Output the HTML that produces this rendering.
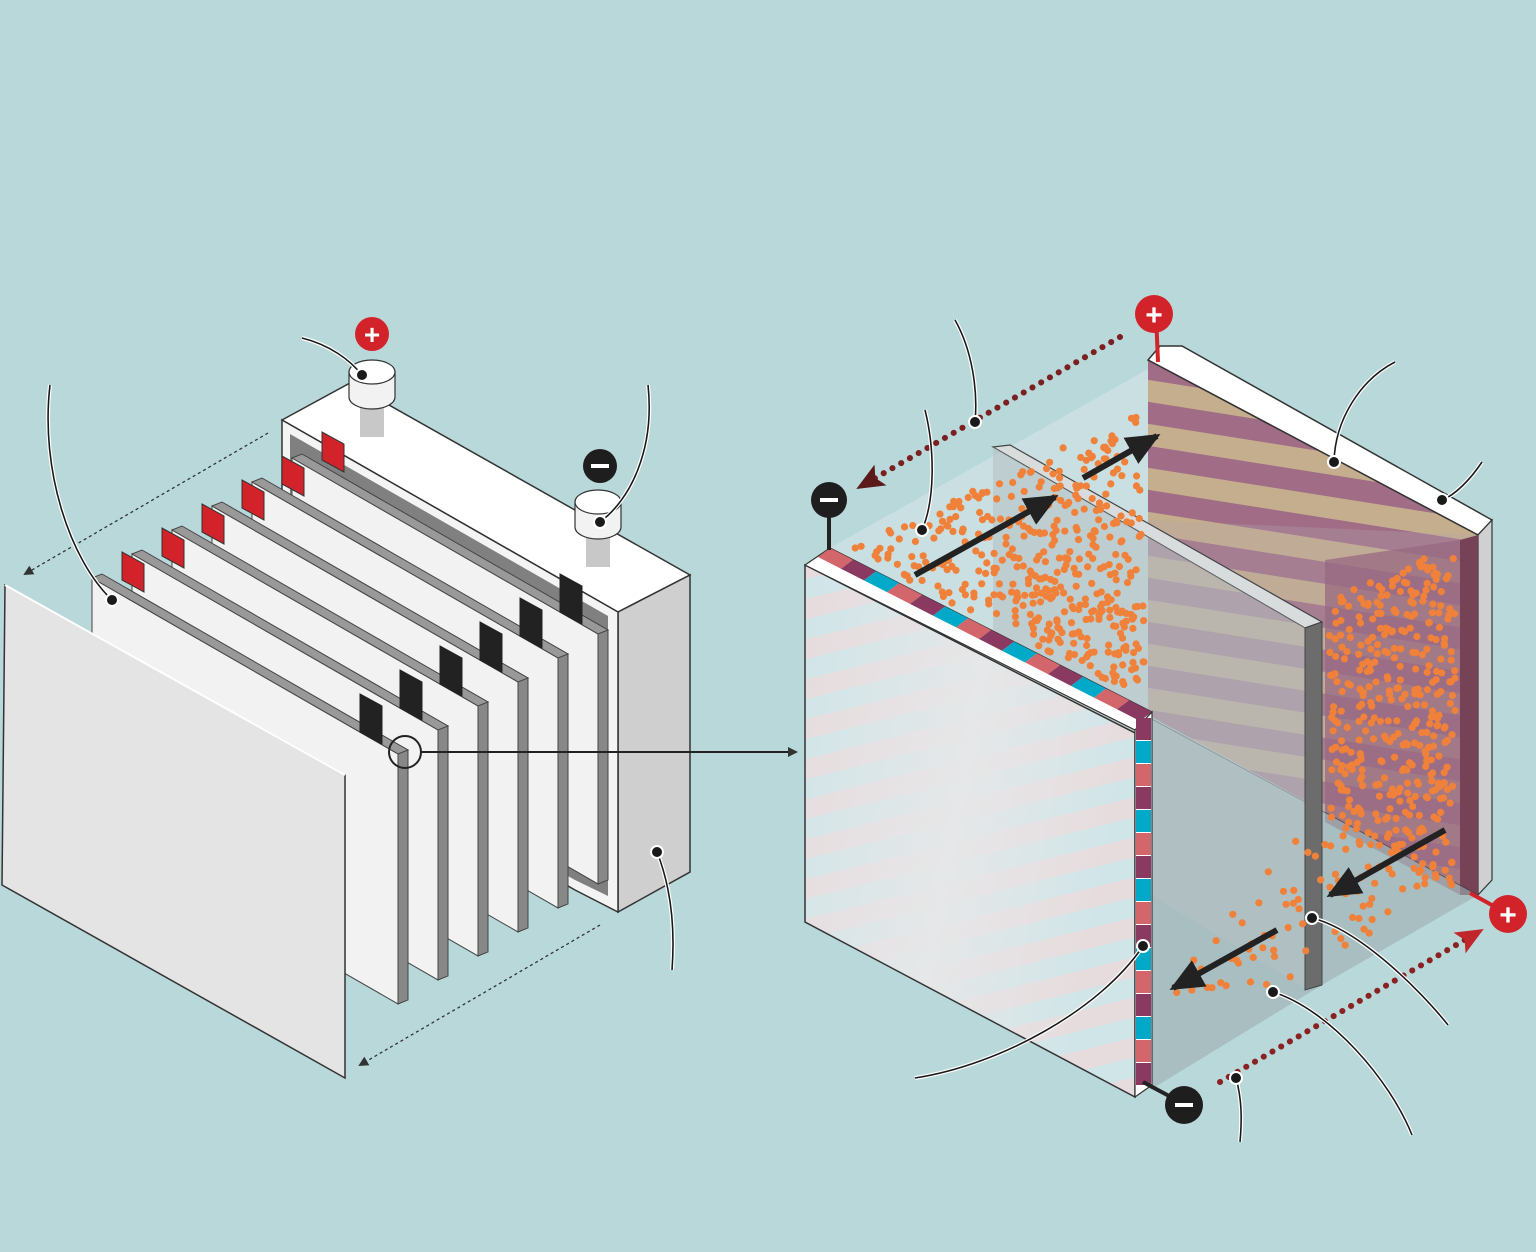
<!DOCTYPE html>
<html><head><meta charset="utf-8"><style>
html,body{margin:0;padding:0;background:#b9d8da;}
svg{display:block;}
text{font-family:"Liberation Sans",sans-serif;font-weight:bold;}
</style></head><body>
<svg id="s" width="1536" height="1252" viewBox="0 0 1536 1252" xmlns="http://www.w3.org/2000/svg">
<defs>
<marker id="ak" markerWidth="10" markerHeight="10" refX="8" refY="5" orient="auto" markerUnits="userSpaceOnUse"><path d="M0,0 L10,5 L0,10 z" fill="#333"/></marker>
<marker id="ar" markerWidth="30" markerHeight="24" refX="26" refY="12" orient="auto" markerUnits="userSpaceOnUse"><path d="M0,0 L28,12 L0,24 L6,12 z" fill="#5a1a1a"/></marker>
<marker id="ar2" markerWidth="30" markerHeight="24" refX="26" refY="12" orient="auto" markerUnits="userSpaceOnUse"><path d="M0,0 L28,12 L0,24 L6,12 z" fill="#c0272d"/></marker>
<marker id="ab" markerWidth="34" markerHeight="30" refX="30" refY="15" orient="auto" markerUnits="userSpaceOnUse"><path d="M0,0 L34,15 L0,30 z" fill="#222"/></marker>
<pattern id="cat" patternUnits="userSpaceOnUse" width="60" height="44" patternTransform="skewY(9)">
<rect width="60" height="44" fill="#a06c86"/><rect y="22" width="60" height="22" fill="#c4ae8d"/></pattern>
<pattern id="ano" patternUnits="userSpaceOnUse" width="60" height="40" patternTransform="skewY(-14)">
<rect width="60" height="40" fill="#e6d8da"/><rect y="20" width="60" height="20" fill="#c9e4e8"/></pattern>
<linearGradient id="fade" x1="0" y1="0" x2="1" y2="0.3"><stop offset="0" stop-color="#e6e7e8" stop-opacity="0.2"/><stop offset="0.55" stop-color="#e6e7e8" stop-opacity="1"/><stop offset="1" stop-color="#e6e7e8" stop-opacity="0.25"/></linearGradient>
</defs>

<!-- LEFT BATTERY -->
<polygon points="282,420 350,383 690,575 618,612" fill="#fff" stroke="#333" stroke-width="1.5"/>
<polygon points="618,612 690,575 690,872 618,912" fill="#cfcfcf" stroke="#333" stroke-width="1.5"/>
<polygon points="282,420 618,612 618,912 575,890 282,720" fill="#f4f4f4" stroke="#333" stroke-width="1.5"/>
<polygon points="290,434 608,616 608,896 575,880 290,720" fill="#808080"/>
<!-- terminals -->
<rect x="360" y="395" width="24" height="42" fill="#c8c8c8"/>
<path d="M349,372 v25 a23,12 0 0 0 46,0 v-25z" fill="#f2f2f2" stroke="#333" stroke-width="1.2"/>
<ellipse cx="372" cy="372" rx="23" ry="12" fill="#fff" stroke="#333" stroke-width="1.2"/>
<rect x="586" y="525" width="24" height="42" fill="#c8c8c8"/>
<path d="M575,502 v25 a23,12 0 0 0 46,0 v-25z" fill="#f2f2f2" stroke="#333" stroke-width="1.2"/>
<ellipse cx="598" cy="502" rx="23" ry="12" fill="#fff" stroke="#333" stroke-width="1.2"/>
<circle cx="372" cy="334" r="17" fill="#d2232a"/><text x="372" y="344" font-size="28" fill="#fff" text-anchor="middle">+</text>
<circle cx="600" cy="466" r="17" fill="#1e1e1e"/><rect x="591" y="464" width="18" height="4" fill="#fff"/>
<!-- plates -->
<g id="plates" stroke="#444" stroke-width="1"></g>
<!-- front plate -->
<polygon points="5,585 345,775 345,1078 2,885" fill="#e4e4e4" stroke="#333" stroke-width="1.5"/>
<line x1="5" y1="585" x2="345" y2="775" stroke="#fff" stroke-width="2"/>
<line x1="268" y1="433" x2="25" y2="574" stroke="#333" stroke-dasharray="3,3" stroke-width="1.3" marker-end="url(#ak)"/>
<line x1="600" y1="925" x2="360" y2="1065" stroke="#333" stroke-dasharray="3,3" stroke-width="1.3" marker-end="url(#ak)"/>
<circle cx="405" cy="752" r="16" fill="none" stroke="#222" stroke-width="2"/>
<line x1="421" y1="752" x2="796" y2="752" stroke="#222" stroke-width="2" marker-end="url(#ak)"/>

<!-- RIGHT CELL -->
<polygon points="830,548 1150,368 1150,720 1000,800" fill="#d8e6e8" opacity="0.55"/>
<polygon points="1160,346 1182,346 1492,520 1478,535 1148,360" fill="#fff" stroke="#333" stroke-width="1.5"/>
<polygon points="1478,535 1492,520 1492,880 1478,895" fill="#d0d0d0" stroke="#333" stroke-width="1.2"/>
<polygon points="1148,360 1478,535 1478,895 1148,715" fill="url(#cat)"/>
<polygon points="1325,560 1460,540 1460,895 1325,822" fill="#8c4d70" opacity="0.75"/>
<polygon points="1460,540 1478,535 1478,895 1460,895" fill="#5a1830"/>
<polygon points="1148,520 1478,535 1478,895 1148,715" fill="#b7a9ad" opacity="0.3"/>
<line x1="1148" y1="360" x2="1478" y2="535" stroke="#333" stroke-width="1.5"/>
<!-- bottom translucent -->
<polygon points="1150,718 1478,895 1322,985 1150,1090" fill="#a3b3b5" opacity="0.7"/>
<line x1="1150" y1="718" x2="1478" y2="895" stroke="#333" stroke-width="1" opacity="0.6"/>
<!-- separator -->
<polygon points="993,447 1010,445 1322,622 1305,628" fill="#d8dcdd" stroke="#444" stroke-width="1.2"/>
<polygon points="993,447 1305,628 1305,988 993,800" fill="#b4c0c2" opacity="0.55"/>
<polygon points="1305,628 1322,622 1322,985 1305,990" fill="#6c6c6c" stroke="#444" stroke-width="1"/>
<g id="dots" fill="#f0813a"></g>
<!-- front anode panel -->
<polygon points="805,565 1135,733 1135,1097 805,922" fill="url(#ano)"/>
<polygon points="805,565 1135,733 1135,1097 805,922" fill="url(#fade)" stroke="#333" stroke-width="1.5"/>
<polygon points="805,565 830,548 1152,712 1135,730" fill="#fff" stroke="#333" stroke-width="1.2"/>
<g id="topstr"></g>
<polygon points="1135,730 1152,712 1152,1085 1135,1097" fill="#fff" stroke="#333" stroke-width="1.2"/>
<g id="sidestr"></g>
<!-- terminals right -->
<line x1="829" y1="500" x2="829" y2="550" stroke="#222" stroke-width="4"/>
<circle cx="829" cy="500" r="18" fill="#1e1e1e"/><rect x="820" y="498" width="18" height="4" fill="#fff"/>
<line x1="1156" y1="314" x2="1158" y2="362" stroke="#d2232a" stroke-width="4"/>
<circle cx="1154" cy="314" r="19" fill="#d2232a"/><text x="1154" y="325" font-size="30" fill="#fff" text-anchor="middle">+</text>
<line x1="1470" y1="893" x2="1508" y2="914" stroke="#d2232a" stroke-width="4"/>
<circle cx="1508" cy="914" r="19" fill="#d2232a"/><text x="1508" y="925" font-size="30" fill="#fff" text-anchor="middle">+</text>
<line x1="1143" y1="1082" x2="1184" y2="1104" stroke="#222" stroke-width="4"/>
<circle cx="1184" cy="1105" r="19" fill="#1e1e1e"/><rect x="1175" y="1103" width="18" height="4" fill="#fff"/>
<!-- dotted current lines -->
<line x1="1120" y1="337" x2="858" y2="488" stroke="#7a2020" stroke-width="6" stroke-linecap="round" stroke-dasharray="0.1,10" marker-end="url(#ar)"/>
<line x1="1220" y1="1082" x2="1482" y2="930" stroke="#8a2222" stroke-width="6" stroke-linecap="round" stroke-dasharray="0.1,10" marker-end="url(#ar2)"/>
<!-- black arrows -->
<g stroke="#222" stroke-width="6" marker-end="url(#ab)">
<line x1="915" y1="575" x2="1055" y2="497"/>
<line x1="1083" y1="478" x2="1157" y2="436"/>
<line x1="1445" y1="830" x2="1330" y2="895"/>
<line x1="1277" y1="930" x2="1173" y2="988"/>
</g>
<!-- leaders -->
<g fill="none" stroke="#fff" stroke-width="4">
<path d="M50,385 C40,470 70,560 112,600"/><path d="M302,338 C330,345 350,360 362,375"/>
<path d="M648,385 C655,450 630,500 600,522"/><path d="M657,852 C672,890 675,930 672,970"/>
<path d="M955,320 C972,350 978,390 975,422"/><path d="M925,410 C935,450 935,500 922,530"/>
<path d="M1395,362 C1360,380 1335,420 1334,462"/><path d="M1482,462 C1470,480 1455,495 1442,500"/>
<path d="M1312,918 C1360,930 1420,990 1448,1025"/><path d="M1273,992 C1330,1010 1390,1080 1412,1135"/>
<path d="M1143,946 C1100,1010 1000,1065 915,1078"/><path d="M1236,1078 C1242,1100 1242,1120 1240,1142"/>
</g>
<g fill="none" stroke="#1a1a1a" stroke-width="1.6">
<path d="M50,385 C40,470 70,560 112,600"/><path d="M302,338 C330,345 350,360 362,375"/>
<path d="M648,385 C655,450 630,500 600,522"/><path d="M657,852 C672,890 675,930 672,970"/>
<path d="M955,320 C972,350 978,390 975,422"/><path d="M925,410 C935,450 935,500 922,530"/>
<path d="M1395,362 C1360,380 1335,420 1334,462"/><path d="M1482,462 C1470,480 1455,495 1442,500"/>
<path d="M1312,918 C1360,930 1420,990 1448,1025"/><path d="M1273,992 C1330,1010 1390,1080 1412,1135"/>
<path d="M1143,946 C1100,1010 1000,1065 915,1078"/><path d="M1236,1078 C1242,1100 1242,1120 1240,1142"/>
</g>
<g fill="#1a1a1a" stroke="#fff" stroke-width="2">
<circle cx="112" cy="600" r="6"/><circle cx="362" cy="375" r="6"/><circle cx="600" cy="522" r="6"/><circle cx="657" cy="852" r="6"/>
<circle cx="975" cy="422" r="6"/><circle cx="922" cy="530" r="6"/><circle cx="1334" cy="462" r="6"/><circle cx="1442" cy="500" r="6"/>
<circle cx="1312" cy="918" r="6"/><circle cx="1273" cy="992" r="6"/><circle cx="1143" cy="946" r="6"/><circle cx="1236" cy="1078" r="6"/>
</g>
</svg>
<script>
var NS="http://www.w3.org/2000/svg";
function el(p,t,a){var e=document.createElementNS(NS,t);for(var k in a)e.setAttribute(k,a[k]);p.appendChild(e);return e;}
// plates
var pg=document.getElementById('plates');
var starts=[[292,458],[252,482],[212,506],[172,530],[132,554],[92,578]];
for(var i=0;i<starts.length;i++){
 var x=starts[i][0],y=starts[i][1],w=306,h=250,sl=0.575;
 var x2=x+w,y2=y+w*sl;
 el(pg,'polygon',{points:x+","+y+" "+(x2)+","+y2+" "+(x2)+","+(y2+h)+" "+x+","+(y+h)+"",fill:"#f2f2f2"});
 el(pg,'polygon',{points:x2+","+y2+" "+(x2+10)+","+(y2-4)+" "+(x2+10)+","+(y2+h-4)+" "+x2+","+(y2+h),fill:"#888"});
 el(pg,'polygon',{points:x+","+y+" "+(x+10)+","+(y-4)+" "+(x2+10)+","+(y2-4)+" "+x2+","+y2,fill:"#999"});
 // red tab
 el(pg,'polygon',{points:(x+30)+","+(y+2)+" "+(x+52)+","+(y+14)+" "+(x+52)+","+(y-14)+" "+(x+30)+","+(y-26),fill:"#d2232a",stroke:"#333"});
 // black tab
 el(pg,'polygon',{points:(x+268)+","+(y+154)+" "+(x+290)+","+(y+166)+" "+(x+290)+","+(y+128)+" "+(x+268)+","+(y+116),fill:"#222",stroke:"#222"});
}
// anode top stripes
var ts=document.getElementById('topstr');
var cols=["#d2666a","#8a3a60","#00a9c8"];
for(var j=0;j<14;j++){
 var t0=j/14,t1=(j+1)/14;
 var ax=830+322*t0,ay=548+164*t0,bx=830+322*t1,by=548+164*t1;
 el(ts,'polygon',{points:ax+","+ay+" "+bx+","+by+" "+(bx-12)+","+(by+9)+" "+(ax-12)+","+(ay+9),fill:cols[j%3]});
}
var ss=document.getElementById('sidestr');
for(var j=0;j<16;j++){
 var y0=718+j*23;
 el(ss,'rect',{x:1136,y:y0,width:15,height:22,fill:cols[(j+1)%3]});
}
// dots
var dg=document.getElementById('dots');
var seed=7;function r(){seed=(seed*16807)%2147483647;return seed/2147483647;}
function inTri(x,y,P){function s(a,b,c){return (a[0]-c[0])*(b[1]-c[1])-(b[0]-c[0])*(a[1]-c[1]);}
 var d1=s([x,y],P[0],P[1]),d2=s([x,y],P[1],P[2]),d3=s([x,y],P[2],P[0]);
 return !((d1<0||d2<0||d3<0)&&(d1>0||d2>0||d3>0));}
function scatter(n,P,bb){var c=0,g=0;while(c<n&&g<20000){g++;var x=bb[0]+r()*(bb[2]-bb[0]),y=bb[1]+r()*(bb[3]-bb[1]);
 var ok=inTri(x,y,[P[0],P[1],P[2]])||(P[3]&&inTri(x,y,[P[0],P[2],P[3]]));if(ok){el(dg,'circle',{cx:x.toFixed(1),cy:y.toFixed(1),r:3.6});c++;}}}
scatter(420,[[850,548],[1140,410],[1145,700],[860,560]],[840,400,1150,710]);
scatter(380,[[1328,600],[1455,545],[1455,890],[1328,830]],[1320,540,1460,900]);
scatter(70,[[1160,1000],[1300,830],[1440,880],[1300,990]],[1150,800,1450,1020]);
</script>
</body></html>
